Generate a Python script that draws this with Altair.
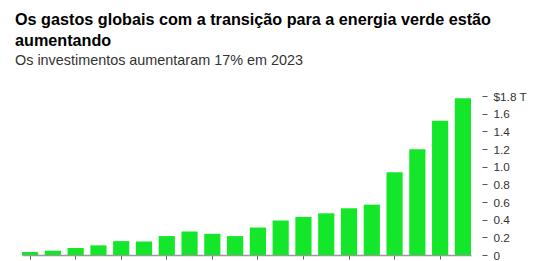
import altair as alt
import pandas as pd

years = [str(y) for y in range(2004, 2024)]
values = [0.034, 0.049, 0.079, 0.109, 0.157, 0.154, 0.214, 0.266, 0.24, 0.214,
          0.311, 0.39, 0.431, 0.472, 0.529, 0.57, 0.937, 1.196, 1.519, 1.774]
y_ticks = [0, 0.2, 0.4, 0.6, 0.8, 1.0, 1.2, 1.4, 1.6, 1.8]

title_lines = ["Os gastos globais com a transição para a energia verde estão", "aumentando"]
subtitle = "Os investimentos aumentaram 17% em 2023"

df = pd.DataFrame({"year": years, "value": values})

FONT = "Liberation Sans"

chart = alt.Chart(df).mark_bar(color="#14e62a").encode(
    x=alt.X("year:N", sort=None,
            scale=alt.Scale(paddingInner=0.29, paddingOuter=0),
            axis=alt.Axis(title=None, labels=False, values=years[::2],
                          domainColor="#9a9a9a", tickColor="#666666",
                          tickSize=4, domainWidth=1.5)),
    y=alt.Y("value:Q", scale=alt.Scale(domain=[0, 1.8], nice=False),
            axis=alt.Axis(title=None, orient="right", values=y_ticks, grid=False,
                          domain=False, offset=11, tickSize=5, tickColor="#555555",
                          labelPadding=6, labelFont=FONT, labelFontSize=11.8,
                          labelColor="#333333",
                          labelExpr="datum.value == 0 ? '0' : (datum.value > 1.79 ? '$1.8 T' : format(datum.value, '.1f'))")),
).properties(
    width=449, height=159,
    padding={"left": 22, "top": 96, "right": 62, "bottom": 6},
    autosize=alt.AutoSizeParams(type="none"),
    title=alt.Title(title_lines, subtitle=subtitle, anchor="start", frame="group",
                    dx=-7, font=FONT, fontSize=16.2, fontWeight="bold", color="#000000",
                    lineHeight=21, subtitleFont=FONT, subtitleFontSize=14.4,
                    subtitleColor="#333333", subtitlePadding=4, offset=24),
).configure_view(stroke=None)

chart.save("out.html", embed_options={"renderer": "svg", "actions": False})
